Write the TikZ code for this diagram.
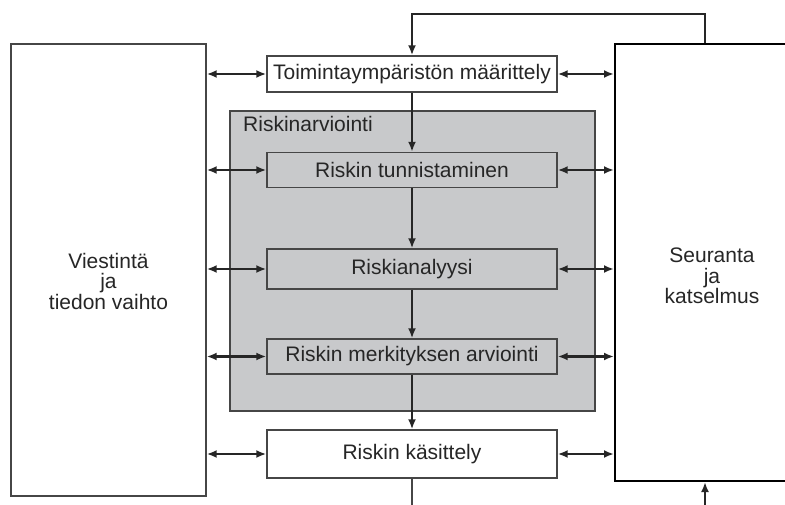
\documentclass[tikz,border=0pt]{standalone}
\usepackage{fontspec}
\setmainfont{Liberation Sans}
\usetikzlibrary{arrows.meta}
\definecolor{boxgrey}{RGB}{200,201,203}
\definecolor{edge}{RGB}{70,70,70}

\begin{document}
\begin{tikzpicture}[x=1pt,y=-1pt]
\tikzstyle{every node}=[font=\fontsize{21}{20.5}\selectfont,text=black!85];
\tikzstyle{step box}=[draw=edge,line width=1.4pt,minimum width=290pt,inner sep=0pt];
\tikzstyle{link}=[draw=black!85,line width=2.2pt,>={Latex[length=10pt,width=8pt]}];
\useasboundingbox (0,0) rectangle (785,505);
\clip (0,0) rectangle (785,505);
% side blocks
\node[draw=edge,line width=1.4pt,minimum width=195pt,minimum height=452pt] (vies) at (108.5,270) {};
\node[align=center] (viestext) at (108.5,281) {Viestintä\\ja\\tiedon vaihto};
\node[draw=black,line width=2pt,minimum width=175pt,minimum height=437pt,inner sep=0pt] (seur) at (702.5,262.5) {};
\node[align=center] (seurtext) at (712,276) {Seuranta\\ja\\katselmus};
% riskinarviointi area
\node[draw=edge,line width=1.2pt,fill=boxgrey,minimum width=365pt,minimum height=300pt] (arv) at (412.5,261) {};
\node[anchor=base west,inner sep=0pt] (arvlabel) at (243,132) {Riskinarviointi};
% process steps
\node[step box,fill=white,minimum height=36pt] (toim) at (412,74) {Toimintaympäristön määrittely};
\node[step box,fill=boxgrey,minimum height=35pt] (tunn) at (412,170) {Riskin tunnistaminen};
\node[step box,fill=boxgrey,minimum height=40pt] (anal) at (412,269) {Riskianalyysi};
\node[step box,fill=boxgrey,minimum height=35pt] (merk) at (412,356.5) {Riskin merkityksen arviointi};
\node[step box,fill=white,minimum height=48pt] (kas) at (412,454) {Riskin käsittely};
\coordinate (top) at (412,14);
\coordinate (bottomin) at (705,505);
\coordinate (bottomout) at (412,505);
% main flow
\draw[link,->] (toim) -- (tunn);
\draw[link,->] (tunn) -- (anal);
\draw[link,->] (anal) -- (merk);
\draw[link,->] (merk) -- (kas);
\draw[link,draw=edge,line width=1.2pt] (kas) -- (bottomout);
% feedback
\draw[link,->] (seur.north -| bottomin) |- (top) -- (toim);
\draw[link,->] (bottomin) -- (seur.south -| bottomin);
% exchange with side blocks
\foreach \s in {toim,tunn,anal,merk,kas}{
  \draw[link,<->] (vies.east |- \s) -- (\s.west);
  \draw[link,<->] (\s.east) -- (seur.west |- \s);
}
\end{tikzpicture}
\end{document}
